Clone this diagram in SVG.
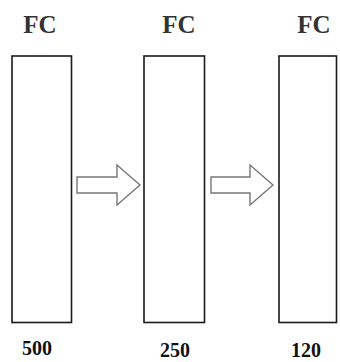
<svg xmlns="http://www.w3.org/2000/svg" width="340" height="362" viewBox="0 0 340 362">
<style>
.box{fill:#fff;stroke:#1a1a1a;stroke-width:1.6}
.arr{fill:#fff;stroke:#777;stroke-width:1.4;stroke-linejoin:miter}
.t{font-family:"Liberation Serif",serif;font-weight:bold;fill:#333;text-anchor:middle}
.h{font-size:25px}
.n{font-size:20px;fill:#111}
</style>
<rect width="340" height="362" fill="#fff"/>
<g id="fc1">
<text class="t h" x="40" y="33">FC</text>
<rect class="box" x="12" y="56" width="59.5" height="266.5"/>
<text class="t n" x="37" y="355">500</text>
</g>
<g id="fc2">
<text class="t h" x="179" y="33">FC</text>
<rect class="box" x="144" y="56" width="60.5" height="266.5"/>
<text class="t n" x="175" y="357">250</text>
</g>
<g id="fc3">
<text class="t h" x="314" y="33">FC</text>
<rect class="box" x="279" y="56" width="57.5" height="266.5"/>
<text class="t n" x="306" y="357">120</text>
</g>
<g id="connectors">
<path class="arr" d="M77,177 H117 V165 L140,185 L117,205 V193 H77 Z"/>
<path class="arr" d="M211,177 H250 V165 L273,185 L250,205 V193 H211 Z"/>
</g>
</svg>
